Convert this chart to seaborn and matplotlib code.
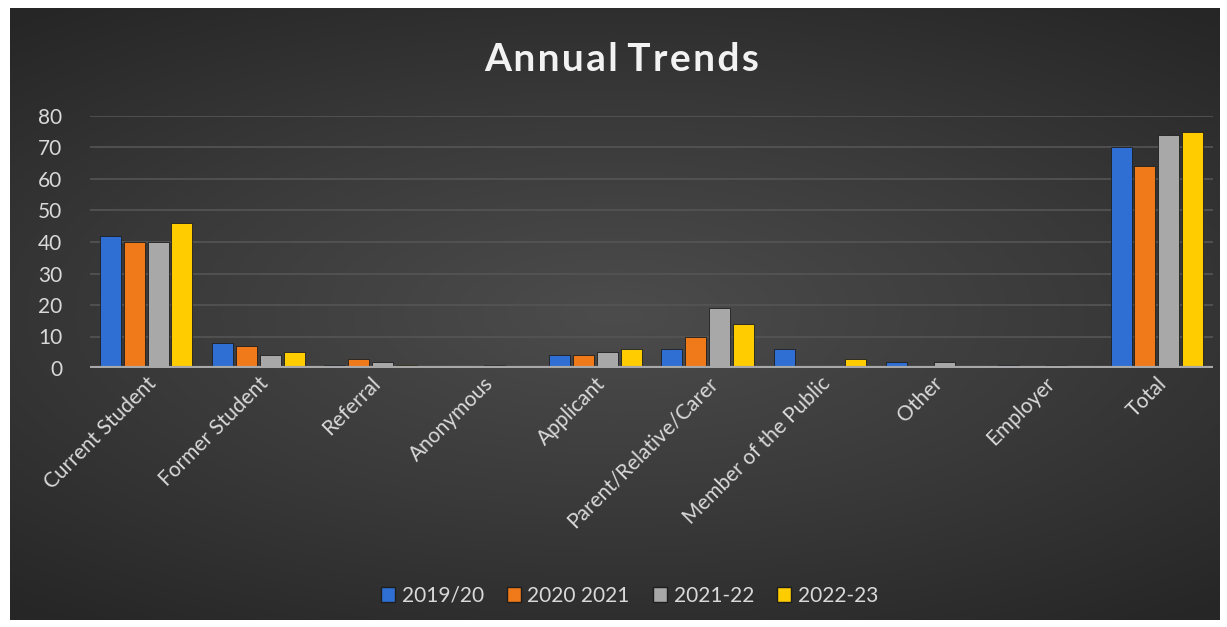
import numpy as np
import pandas as pd
import matplotlib
matplotlib.use("Agg")
import matplotlib.pyplot as plt
import seaborn as sns
from matplotlib.patches import Patch

categories = ["Current Student", "Former Student", "Referral", "Anonymous", "Applicant",
              "Parent/Relative/Carer", "Member of the Public", "Other", "Employer", "Total"]
years = ["2019/20", "2020 2021", "2021-22", "2022-23"]
v2019 = [42, 8, 1, 0, 4, 6, 6, 2, 1, 70]
v2020 = [40, 7, 3, 0, 4, 10, 0, 0, 0, 64]
v2021 = [40, 4, 2, 1, 5, 19, 0, 2, 1, 74]
v2022 = [46, 5, 1, 0, 6, 14, 3, 0, 0, 75]
colors = ["#2f6fd4", "#f07a1a", "#a8a8a8", "#ffcc00"]

rows = []
for yr, vals in zip(years, [v2019, v2020, v2021, v2022]):
    for c, v in zip(categories, vals):
        rows.append({"category": c, "year": yr, "count": v})
df = pd.DataFrame(rows)

sns.set_style("dark")
plt.rcParams['font.family'] = ['Lato', 'DejaVu Sans']

fig = plt.figure(figsize=(12.27, 6.27), dpi=100)
fig.patch.set_facecolor("white")

# dark radial background inside a white frame
bg = fig.add_axes([10 / 1227, 7 / 627, 1210 / 1227, 612 / 627], zorder=0)
yy, xx = np.mgrid[-1:1:300j, -1:1:600j]
r = np.sqrt((xx * 0.9) ** 2 + (yy * 1.1) ** 2)
bg.imshow(r, cmap=matplotlib.colors.LinearSegmentedColormap.from_list(
    "bgc", ["#4c4c4c", "#3a3a3a", "#262626"]), aspect="auto", vmin=0, vmax=1.4)
bg.set_axis_off()

ax = fig.add_axes([90 / 1227, 259 / 627, 1123 / 1227, 252 / 627], zorder=1)
ax.patch.set_alpha(0)
sns.barplot(data=df, x="category", y="count", hue="year", palette=colors,
            saturation=1, width=0.85, gap=0.12, ax=ax, legend=False,
            edgecolor="#1e1e1e", linewidth=0.6)

ax.set_xlim(-0.5, 9.5)
ax.set_ylim(0, 80)
ax.set_yticks(range(0, 81, 10))
ax.yaxis.grid(True, color="#555555", linewidth=1.2)
ax.set_axisbelow(True)
ax.axhline(0, color="#a8a8a8", linewidth=3, zorder=5)
for s in ax.spines.values():
    s.set_visible(False)
ax.set_xlabel("")
ax.set_ylabel("")
ax.tick_params(axis="both", length=0, colors="#d9d9d9", labelsize=15)
ax.tick_params(axis="y", pad=20)
plt.setp(ax.get_xticklabels(), rotation=45, ha="right", rotation_mode="anchor")
ax.tick_params(axis="x", pad=4)

fig.text(0.507, 0.905, "A n n u a l   T r e n d s".replace(" ", "\u200a").replace("\u200a\u200a\u200a", " "),
         ha="center", va="center", color="#f2f2f2", fontsize=28, fontweight="bold")

handles = [Patch(facecolor=c, edgecolor="#1e1e1e") for c in colors]
fig.legend(handles, years, loc="center", bbox_to_anchor=(0.513, 0.05), ncol=4,
           frameon=False, fontsize=15, labelcolor="#d9d9d9", handlelength=0.7,
           handleheight=0.7, handletextpad=0.3, columnspacing=1.1)

fig.savefig("out.png", dpi=100, facecolor="white")
